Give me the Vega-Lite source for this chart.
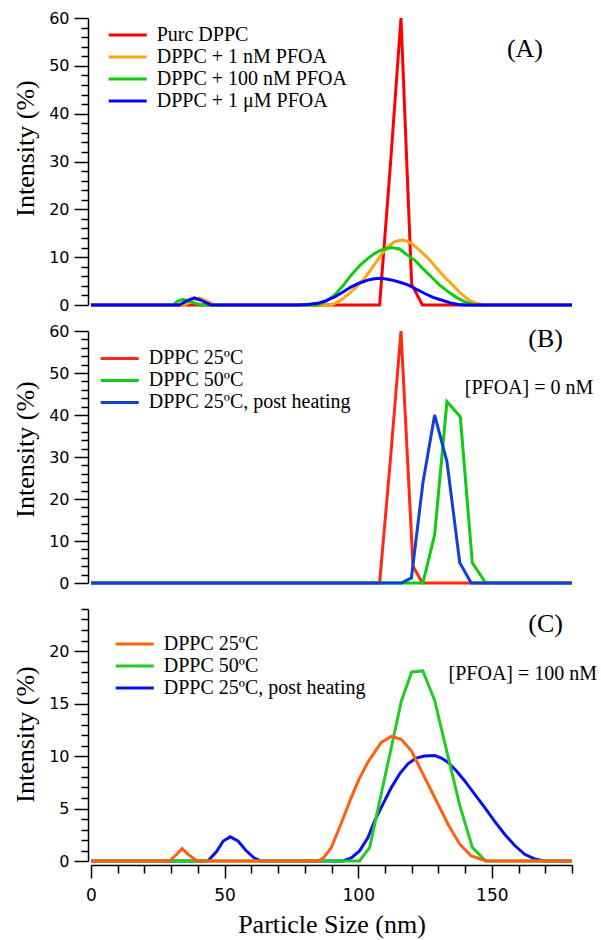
{
  "$schema": "https://vega.github.io/schema/vega-lite/v6.json",
  "background": "white",
  "padding": {"left": 12, "top": 10, "right": 20, "bottom": 2},
  "spacing": 26,
  "bounds": "flush",
  "config": {
    "view": {"stroke": null},
    "axis": {"grid": false, "domainColor": "black", "tickColor": "black", "labelColor": "black", "titleColor": "black", "domainWidth": 1.5, "tickWidth": 1.5, "labelFont": "DejaVu Sans", "titleFont": "Liberation Serif", "titleFontWeight": "normal", "labelFlush": false, "labelOverlap": false},
    "text": {"font": "Liberation Serif", "color": "black"},
    "legend": {"labelFont": "Liberation Serif", "labelFontSize": 20, "labelColor": "black", "symbolStrokeWidth": 3, "symbolSize": 64, "labelOffset": 19, "rowPadding": 2, "padding": 0, "labelLimit": 400}
  },
  "resolve": {"scale": {"color": "independent"}, "legend": {"color": "independent"}},
  "datasets": {
    "A": [
      {"series": "Purc DPPC", "size_nm": 0, "intensity": 0},
      {"series": "Purc DPPC", "size_nm": 108, "intensity": 0},
      {"series": "Purc DPPC", "size_nm": 112, "intensity": 29},
      {"series": "Purc DPPC", "size_nm": 116, "intensity": 60},
      {"series": "Purc DPPC", "size_nm": 120, "intensity": 4.3},
      {"series": "Purc DPPC", "size_nm": 124, "intensity": 0},
      {"series": "Purc DPPC", "size_nm": 180, "intensity": 0},
      {"series": "DPPC + 1 nM PFOA", "size_nm": 0, "intensity": 0},
      {"series": "DPPC + 1 nM PFOA", "size_nm": 35, "intensity": 0},
      {"series": "DPPC + 1 nM PFOA", "size_nm": 37.5, "intensity": 0.7},
      {"series": "DPPC + 1 nM PFOA", "size_nm": 40.5, "intensity": 1.5},
      {"series": "DPPC + 1 nM PFOA", "size_nm": 43.5, "intensity": 0.8},
      {"series": "DPPC + 1 nM PFOA", "size_nm": 46.5, "intensity": 0},
      {"series": "DPPC + 1 nM PFOA", "size_nm": 89.9, "intensity": 0},
      {"series": "DPPC + 1 nM PFOA", "size_nm": 93, "intensity": 0.8},
      {"series": "DPPC + 1 nM PFOA", "size_nm": 96.1, "intensity": 2.1},
      {"series": "DPPC + 1 nM PFOA", "size_nm": 99.2, "intensity": 3.7},
      {"series": "DPPC + 1 nM PFOA", "size_nm": 102.4, "intensity": 5.6},
      {"series": "DPPC + 1 nM PFOA", "size_nm": 105.5, "intensity": 8.0},
      {"series": "DPPC + 1 nM PFOA", "size_nm": 108.6, "intensity": 10.5},
      {"series": "DPPC + 1 nM PFOA", "size_nm": 111, "intensity": 12.1},
      {"series": "DPPC + 1 nM PFOA", "size_nm": 113.5, "intensity": 13.2},
      {"series": "DPPC + 1 nM PFOA", "size_nm": 116.1, "intensity": 13.6},
      {"series": "DPPC + 1 nM PFOA", "size_nm": 118, "intensity": 13.4},
      {"series": "DPPC + 1 nM PFOA", "size_nm": 119.9, "intensity": 12.9},
      {"series": "DPPC + 1 nM PFOA", "size_nm": 123, "intensity": 11.4},
      {"series": "DPPC + 1 nM PFOA", "size_nm": 126.1, "intensity": 9.8},
      {"series": "DPPC + 1 nM PFOA", "size_nm": 129.2, "intensity": 7.8},
      {"series": "DPPC + 1 nM PFOA", "size_nm": 132.4, "intensity": 5.8},
      {"series": "DPPC + 1 nM PFOA", "size_nm": 135.5, "intensity": 4.1},
      {"series": "DPPC + 1 nM PFOA", "size_nm": 138.6, "intensity": 2.3},
      {"series": "DPPC + 1 nM PFOA", "size_nm": 141.7, "intensity": 0.9},
      {"series": "DPPC + 1 nM PFOA", "size_nm": 144.8, "intensity": 0.3},
      {"series": "DPPC + 1 nM PFOA", "size_nm": 147.3, "intensity": 0},
      {"series": "DPPC + 1 nM PFOA", "size_nm": 180, "intensity": 0},
      {"series": "DPPC + 100 nM PFOA", "size_nm": 0, "intensity": 0},
      {"series": "DPPC + 100 nM PFOA", "size_nm": 30.7, "intensity": 0},
      {"series": "DPPC + 100 nM PFOA", "size_nm": 32.5, "intensity": 0.8},
      {"series": "DPPC + 100 nM PFOA", "size_nm": 34.4, "intensity": 1.2},
      {"series": "DPPC + 100 nM PFOA", "size_nm": 36.5, "intensity": 0.8},
      {"series": "DPPC + 100 nM PFOA", "size_nm": 39, "intensity": 0.3},
      {"series": "DPPC + 100 nM PFOA", "size_nm": 42, "intensity": 0},
      {"series": "DPPC + 100 nM PFOA", "size_nm": 84.9, "intensity": 0},
      {"series": "DPPC + 100 nM PFOA", "size_nm": 88, "intensity": 0.8},
      {"series": "DPPC + 100 nM PFOA", "size_nm": 91.2, "intensity": 2.1},
      {"series": "DPPC + 100 nM PFOA", "size_nm": 94.3, "intensity": 4.0},
      {"series": "DPPC + 100 nM PFOA", "size_nm": 97.4, "intensity": 6.3},
      {"series": "DPPC + 100 nM PFOA", "size_nm": 100.5, "intensity": 8.2},
      {"series": "DPPC + 100 nM PFOA", "size_nm": 103.6, "intensity": 9.75},
      {"series": "DPPC + 100 nM PFOA", "size_nm": 106.5, "intensity": 10.9},
      {"series": "DPPC + 100 nM PFOA", "size_nm": 109.2, "intensity": 11.6},
      {"series": "DPPC + 100 nM PFOA", "size_nm": 112.4, "intensity": 12.0},
      {"series": "DPPC + 100 nM PFOA", "size_nm": 115.5, "intensity": 11.7},
      {"series": "DPPC + 100 nM PFOA", "size_nm": 118, "intensity": 10.6},
      {"series": "DPPC + 100 nM PFOA", "size_nm": 121.1, "intensity": 9.4},
      {"series": "DPPC + 100 nM PFOA", "size_nm": 124.2, "intensity": 7.6},
      {"series": "DPPC + 100 nM PFOA", "size_nm": 127.3, "intensity": 5.9},
      {"series": "DPPC + 100 nM PFOA", "size_nm": 130.4, "intensity": 4.2},
      {"series": "DPPC + 100 nM PFOA", "size_nm": 133.6, "intensity": 2.8},
      {"series": "DPPC + 100 nM PFOA", "size_nm": 136.7, "intensity": 1.6},
      {"series": "DPPC + 100 nM PFOA", "size_nm": 139.8, "intensity": 0.7},
      {"series": "DPPC + 100 nM PFOA", "size_nm": 143.6, "intensity": 0},
      {"series": "DPPC + 100 nM PFOA", "size_nm": 180, "intensity": 0},
      {"series": "DPPC + 1 μM PFOA", "size_nm": 0, "intensity": 0},
      {"series": "DPPC + 1 μM PFOA", "size_nm": 33, "intensity": 0},
      {"series": "DPPC + 1 μM PFOA", "size_nm": 36, "intensity": 0.9},
      {"series": "DPPC + 1 μM PFOA", "size_nm": 38.7, "intensity": 1.5},
      {"series": "DPPC + 1 μM PFOA", "size_nm": 41.5, "intensity": 0.9},
      {"series": "DPPC + 1 μM PFOA", "size_nm": 45, "intensity": 0},
      {"series": "DPPC + 1 μM PFOA", "size_nm": 77.4, "intensity": 0},
      {"series": "DPPC + 1 μM PFOA", "size_nm": 81, "intensity": 0.1},
      {"series": "DPPC + 1 μM PFOA", "size_nm": 84.9, "intensity": 0.35},
      {"series": "DPPC + 1 μM PFOA", "size_nm": 88, "intensity": 0.9},
      {"series": "DPPC + 1 μM PFOA", "size_nm": 91.2, "intensity": 1.7},
      {"series": "DPPC + 1 μM PFOA", "size_nm": 94.3, "intensity": 2.7},
      {"series": "DPPC + 1 μM PFOA", "size_nm": 97.4, "intensity": 3.8},
      {"series": "DPPC + 1 μM PFOA", "size_nm": 100.5, "intensity": 4.6},
      {"series": "DPPC + 1 μM PFOA", "size_nm": 103.6, "intensity": 5.2},
      {"series": "DPPC + 1 μM PFOA", "size_nm": 106, "intensity": 5.5},
      {"series": "DPPC + 1 μM PFOA", "size_nm": 108.6, "intensity": 5.57},
      {"series": "DPPC + 1 μM PFOA", "size_nm": 111, "intensity": 5.4},
      {"series": "DPPC + 1 μM PFOA", "size_nm": 113.5, "intensity": 5.1},
      {"series": "DPPC + 1 μM PFOA", "size_nm": 116.5, "intensity": 4.6},
      {"series": "DPPC + 1 μM PFOA", "size_nm": 118.6, "intensity": 4.2},
      {"series": "DPPC + 1 μM PFOA", "size_nm": 121.8, "intensity": 3.3},
      {"series": "DPPC + 1 μM PFOA", "size_nm": 124.9, "intensity": 2.4},
      {"series": "DPPC + 1 μM PFOA", "size_nm": 128, "intensity": 1.6},
      {"series": "DPPC + 1 μM PFOA", "size_nm": 131.1, "intensity": 1.05},
      {"series": "DPPC + 1 μM PFOA", "size_nm": 134.2, "intensity": 0.5},
      {"series": "DPPC + 1 μM PFOA", "size_nm": 137.3, "intensity": 0.1},
      {"series": "DPPC + 1 μM PFOA", "size_nm": 140, "intensity": 0},
      {"series": "DPPC + 1 μM PFOA", "size_nm": 180, "intensity": 0}
    ],
    "B": [
      {"series": "DPPC 25ºC", "size_nm": 0, "intensity": 0},
      {"series": "DPPC 25ºC", "size_nm": 108, "intensity": 0},
      {"series": "DPPC 25ºC", "size_nm": 112, "intensity": 29},
      {"series": "DPPC 25ºC", "size_nm": 116, "intensity": 60},
      {"series": "DPPC 25ºC", "size_nm": 120.5, "intensity": 4},
      {"series": "DPPC 25ºC", "size_nm": 124, "intensity": 0},
      {"series": "DPPC 25ºC", "size_nm": 180, "intensity": 0},
      {"series": "DPPC 50ºC", "size_nm": 0, "intensity": 0},
      {"series": "DPPC 50ºC", "size_nm": 124.2, "intensity": 0},
      {"series": "DPPC 50ºC", "size_nm": 128.6, "intensity": 11.5},
      {"series": "DPPC 50ºC", "size_nm": 133.2, "intensity": 43.2},
      {"series": "DPPC 50ºC", "size_nm": 138.2, "intensity": 39.6},
      {"series": "DPPC 50ºC", "size_nm": 142.7, "intensity": 4.8},
      {"series": "DPPC 50ºC", "size_nm": 147.7, "intensity": 0},
      {"series": "DPPC 50ºC", "size_nm": 180, "intensity": 0},
      {"series": "DPPC 25ºC, post heating", "size_nm": 0, "intensity": 0},
      {"series": "DPPC 25ºC, post heating", "size_nm": 116.1, "intensity": 0},
      {"series": "DPPC 25ºC, post heating", "size_nm": 119.9, "intensity": 1.2},
      {"series": "DPPC 25ºC, post heating", "size_nm": 124.2, "intensity": 23.8},
      {"series": "DPPC 25ºC, post heating", "size_nm": 128.6, "intensity": 40},
      {"series": "DPPC 25ºC, post heating", "size_nm": 133.2, "intensity": 28.9},
      {"series": "DPPC 25ºC, post heating", "size_nm": 138, "intensity": 4.8},
      {"series": "DPPC 25ºC, post heating", "size_nm": 142.3, "intensity": 0},
      {"series": "DPPC 25ºC, post heating", "size_nm": 180, "intensity": 0}
    ],
    "C": [
      {"series": "DPPC 25ºC, post heating", "size_nm": 0, "intensity": 0},
      {"series": "DPPC 25ºC, post heating", "size_nm": 43.7, "intensity": 0},
      {"series": "DPPC 25ºC, post heating", "size_nm": 47, "intensity": 0.9},
      {"series": "DPPC 25ºC, post heating", "size_nm": 49.5, "intensity": 1.9},
      {"series": "DPPC 25ºC, post heating", "size_nm": 52.1, "intensity": 2.3},
      {"series": "DPPC 25ºC, post heating", "size_nm": 55, "intensity": 1.9},
      {"series": "DPPC 25ºC, post heating", "size_nm": 58, "intensity": 1.0},
      {"series": "DPPC 25ºC, post heating", "size_nm": 61, "intensity": 0.3},
      {"series": "DPPC 25ºC, post heating", "size_nm": 63.7, "intensity": 0},
      {"series": "DPPC 25ºC, post heating", "size_nm": 94.3, "intensity": 0},
      {"series": "DPPC 25ºC, post heating", "size_nm": 97.4, "intensity": 0.3},
      {"series": "DPPC 25ºC, post heating", "size_nm": 100.5, "intensity": 0.96},
      {"series": "DPPC 25ºC, post heating", "size_nm": 103.6, "intensity": 2.2},
      {"series": "DPPC 25ºC, post heating", "size_nm": 106.1, "intensity": 3.8},
      {"series": "DPPC 25ºC, post heating", "size_nm": 109.2, "intensity": 5.4},
      {"series": "DPPC 25ºC, post heating", "size_nm": 112.4, "intensity": 7.0},
      {"series": "DPPC 25ºC, post heating", "size_nm": 115.5, "intensity": 8.3},
      {"series": "DPPC 25ºC, post heating", "size_nm": 118.6, "intensity": 9.25},
      {"series": "DPPC 25ºC, post heating", "size_nm": 121.7, "intensity": 9.8},
      {"series": "DPPC 25ºC, post heating", "size_nm": 124.8, "intensity": 10.0},
      {"series": "DPPC 25ºC, post heating", "size_nm": 128.6, "intensity": 10.05},
      {"series": "DPPC 25ºC, post heating", "size_nm": 131.1, "intensity": 9.8},
      {"series": "DPPC 25ºC, post heating", "size_nm": 133.6, "intensity": 9.4},
      {"series": "DPPC 25ºC, post heating", "size_nm": 136.7, "intensity": 8.6},
      {"series": "DPPC 25ºC, post heating", "size_nm": 139.8, "intensity": 7.65},
      {"series": "DPPC 25ºC, post heating", "size_nm": 143.5, "intensity": 6.4},
      {"series": "DPPC 25ºC, post heating", "size_nm": 147.3, "intensity": 5.1},
      {"series": "DPPC 25ºC, post heating", "size_nm": 151, "intensity": 3.8},
      {"series": "DPPC 25ºC, post heating", "size_nm": 154.8, "intensity": 2.55},
      {"series": "DPPC 25ºC, post heating", "size_nm": 158.5, "intensity": 1.5},
      {"series": "DPPC 25ºC, post heating", "size_nm": 162.3, "intensity": 0.64},
      {"series": "DPPC 25ºC, post heating", "size_nm": 166, "intensity": 0.2},
      {"series": "DPPC 25ºC, post heating", "size_nm": 169.8, "intensity": 0},
      {"series": "DPPC 25ºC, post heating", "size_nm": 180, "intensity": 0},
      {"series": "DPPC 50ºC", "size_nm": 0, "intensity": 0},
      {"series": "DPPC 50ºC", "size_nm": 100.5, "intensity": 0},
      {"series": "DPPC 50ºC", "size_nm": 104.3, "intensity": 1.3},
      {"series": "DPPC 50ºC", "size_nm": 108.2, "intensity": 5.9},
      {"series": "DPPC 50ºC", "size_nm": 112.2, "intensity": 10.6},
      {"series": "DPPC 50ºC", "size_nm": 116.1, "intensity": 15.2},
      {"series": "DPPC 50ºC", "size_nm": 120, "intensity": 18.0},
      {"series": "DPPC 50ºC", "size_nm": 124.2, "intensity": 18.1},
      {"series": "DPPC 50ºC", "size_nm": 128.6, "intensity": 15.3},
      {"series": "DPPC 50ºC", "size_nm": 133.2, "intensity": 10.4},
      {"series": "DPPC 50ºC", "size_nm": 138, "intensity": 5.3},
      {"series": "DPPC 50ºC", "size_nm": 142.7, "intensity": 1.3},
      {"series": "DPPC 50ºC", "size_nm": 147.7, "intensity": 0},
      {"series": "DPPC 50ºC", "size_nm": 180, "intensity": 0},
      {"series": "DPPC 25ºC", "size_nm": 0, "intensity": 0},
      {"series": "DPPC 25ºC", "size_nm": 29.4, "intensity": 0},
      {"series": "DPPC 25ºC", "size_nm": 31.5, "intensity": 0.5},
      {"series": "DPPC 25ºC", "size_nm": 34.1, "intensity": 1.18},
      {"series": "DPPC 25ºC", "size_nm": 36.5, "intensity": 0.6},
      {"series": "DPPC 25ºC", "size_nm": 39.7, "intensity": 0},
      {"series": "DPPC 25ºC", "size_nm": 84.9, "intensity": 0},
      {"series": "DPPC 25ºC", "size_nm": 87, "intensity": 0.3},
      {"series": "DPPC 25ºC", "size_nm": 89.9, "intensity": 1.27},
      {"series": "DPPC 25ºC", "size_nm": 93.5, "intensity": 3.5},
      {"series": "DPPC 25ºC", "size_nm": 97.4, "intensity": 6.06},
      {"series": "DPPC 25ºC", "size_nm": 100.5, "intensity": 7.9},
      {"series": "DPPC 25ºC", "size_nm": 103.6, "intensity": 9.4},
      {"series": "DPPC 25ºC", "size_nm": 108.6, "intensity": 11.3},
      {"series": "DPPC 25ºC", "size_nm": 112.4, "intensity": 11.87},
      {"series": "DPPC 25ºC", "size_nm": 116.1, "intensity": 11.6},
      {"series": "DPPC 25ºC", "size_nm": 119.9, "intensity": 10.5},
      {"series": "DPPC 25ºC", "size_nm": 124.2, "intensity": 8.3},
      {"series": "DPPC 25ºC", "size_nm": 128.6, "intensity": 6.06},
      {"series": "DPPC 25ºC", "size_nm": 133.6, "intensity": 3.5},
      {"series": "DPPC 25ºC", "size_nm": 138, "intensity": 1.6},
      {"series": "DPPC 25ºC", "size_nm": 142.3, "intensity": 0.48},
      {"series": "DPPC 25ºC", "size_nm": 148, "intensity": 0},
      {"series": "DPPC 25ºC", "size_nm": 180, "intensity": 0}
    ]
  },
  "vconcat": [
    {
      "width": 481,
      "height": 287,
      "resolve": {"axis": {"y": "independent"}},
      "layer": [
        {
          "data": {"name": "A"},
          "mark": {"type": "line", "strokeWidth": 3},
          "encoding": {
            "x": {"field": "size_nm", "type": "quantitative", "scale": {"domain": [0, 180], "nice": false, "zero": false}, "axis": null},
            "y": {"field": "intensity", "type": "quantitative", "scale": {"domain": [0, 60], "nice": false},
                  "axis": {"orient": "left", "values": [0, 10, 20, 30, 40, 50, 60], "tickSize": 14, "offset": 3, "labelFontSize": 16, "labelPadding": 5, "title": "Intensity (%)", "titleFontSize": 26, "titlePadding": 10, "titleY": 130}},
            "color": {"field": "series", "type": "nominal",
                      "scale": {"domain": ["Purc DPPC", "DPPC + 1 nM PFOA", "DPPC + 100 nM PFOA", "DPPC + 1 μM PFOA"], "range": ["#ff0000", "#ffa510", "#10cc10", "#0000ff"]},
                      "legend": {"orient": "none", "legendX": 26.7, "legendY": 7.1, "title": null, "symbolType": "M-4.75,0H4.75"}}
          }
        },
        {
          "data": {"values": [{}]},
          "mark": {"type": "text", "fontSize": 26, "text": "(A)", "align": "center", "baseline": "middle"},
          "encoding": {
            "x": {"datum": 162.4, "type": "quantitative", "axis": null},
            "y": {"datum": 53.6, "type": "quantitative",
                  "axis": {"orient": "left", "values": [2, 4, 6, 8, 12, 14, 16, 18, 22, 24, 26, 28, 32, 34, 36, 38, 42, 44, 46, 48, 52, 54, 56, 58], "tickSize": 7, "offset": 3, "labels": false, "domain": false, "title": null}}
          }
        }
      ]
    },
    {
      "width": 481,
      "height": 252,
      "resolve": {"axis": {"y": "independent"}},
      "layer": [
        {
          "data": {"name": "B"},
          "mark": {"type": "line", "strokeWidth": 3},
          "encoding": {
            "x": {"field": "size_nm", "type": "quantitative", "scale": {"domain": [0, 180], "nice": false, "zero": false}, "axis": null},
            "y": {"field": "intensity", "type": "quantitative", "scale": {"domain": [0, 60], "nice": false},
                  "axis": {"orient": "left", "values": [0, 10, 20, 30, 40, 50, 60], "tickSize": 14, "offset": 3, "labelFontSize": 16, "labelPadding": 5, "title": "Intensity (%)", "titleFontSize": 26, "titlePadding": 10, "titleY": 118}},
            "color": {"field": "series", "type": "nominal",
                      "scale": {"domain": ["DPPC 25ºC", "DPPC 50ºC", "DPPC 25ºC, post heating"], "range": ["#ff2a10", "#10cc10", "#1040d8"]},
                      "legend": {"orient": "none", "legendX": 18.7, "legendY": 17.4, "title": null, "symbolType": "M-4.75,0H4.75"}}
          }
        },
        {
          "data": {"values": [{}]},
          "mark": {"type": "text", "fontSize": 26, "text": "(B)", "align": "center", "baseline": "middle"},
          "encoding": {
            "x": {"datum": 170.1, "type": "quantitative", "axis": null},
            "y": {"datum": 58.0, "type": "quantitative",
                  "axis": {"orient": "left", "values": [2, 4, 6, 8, 12, 14, 16, 18, 22, 24, 26, 28, 32, 34, 36, 38, 42, 44, 46, 48, 52, 54, 56, 58], "tickSize": 7, "offset": 3, "labels": false, "domain": false, "title": null}}
          }
        },
        {
          "data": {"values": [{}]},
          "mark": {"type": "text", "fontSize": 20, "text": "[PFOA] = 0 nM", "align": "center", "baseline": "middle"},
          "encoding": {
            "x": {"datum": 163.9, "type": "quantitative", "axis": null},
            "y": {"datum": 46.5, "type": "quantitative", "axis": null}
          }
        }
      ]
    },
    {
      "width": 481,
      "height": 252,
      "resolve": {"axis": {"x": "independent", "y": "independent"}},
      "layer": [
        {
          "data": {"name": "C"},
          "mark": {"type": "line", "strokeWidth": 3},
          "encoding": {
            "x": {"field": "size_nm", "type": "quantitative", "scale": {"domain": [0, 180], "nice": false, "zero": false},
                  "axis": {"orient": "bottom", "values": [0, 50, 100, 150], "tickSize": 13, "offset": 4, "labelFontSize": 17, "labelPadding": 9, "title": "Particle Size (nm)", "titleFontSize": 26, "titlePadding": 8}},
            "y": {"field": "intensity", "type": "quantitative", "scale": {"domain": [0, 24], "nice": false},
                  "axis": {"orient": "left", "values": [0, 5, 10, 15, 20], "tickSize": 14, "offset": 3, "labelFontSize": 16, "labelPadding": 5, "title": "Intensity (%)", "titleFontSize": 26, "titlePadding": 10, "titleY": 125}},
            "color": {"field": "series", "type": "nominal",
                      "scale": {"domain": ["DPPC 25ºC", "DPPC 50ºC", "DPPC 25ºC, post heating"], "range": ["#ff6010", "#22cc22", "#0a10f0"]},
                      "legend": {"orient": "none", "legendX": 33.7, "legendY": 24.9, "title": null, "symbolType": "M-4.75,0H4.75"}}
          }
        },
        {
          "data": {"values": [{}]},
          "mark": {"type": "text", "fontSize": 26, "text": "(C)", "align": "center", "baseline": "middle"},
          "encoding": {
            "x": {"datum": 170.1, "type": "quantitative",
                  "axis": {"orient": "bottom", "values": [10, 20, 30, 40, 60, 70, 80, 90, 110, 120, 130, 140, 160, 170, 180], "tickSize": 8, "offset": 4, "labels": false, "domain": false, "title": null}},
            "y": {"datum": 22.6, "type": "quantitative",
                  "axis": {"orient": "left", "values": [1, 2, 3, 4, 6, 7, 8, 9, 11, 12, 13, 14, 16, 17, 18, 19, 21, 22, 23, 24], "tickSize": 7, "offset": 3, "labels": false, "domain": false, "title": null}}
          }
        },
        {
          "data": {"values": [{}]},
          "mark": {"type": "text", "fontSize": 20, "text": "[PFOA] = 100 nM", "align": "center", "baseline": "middle"},
          "encoding": {
            "x": {"datum": 161.6, "type": "quantitative", "axis": null},
            "y": {"datum": 17.8, "type": "quantitative", "axis": null}
          }
        }
      ]
    }
  ]
}
